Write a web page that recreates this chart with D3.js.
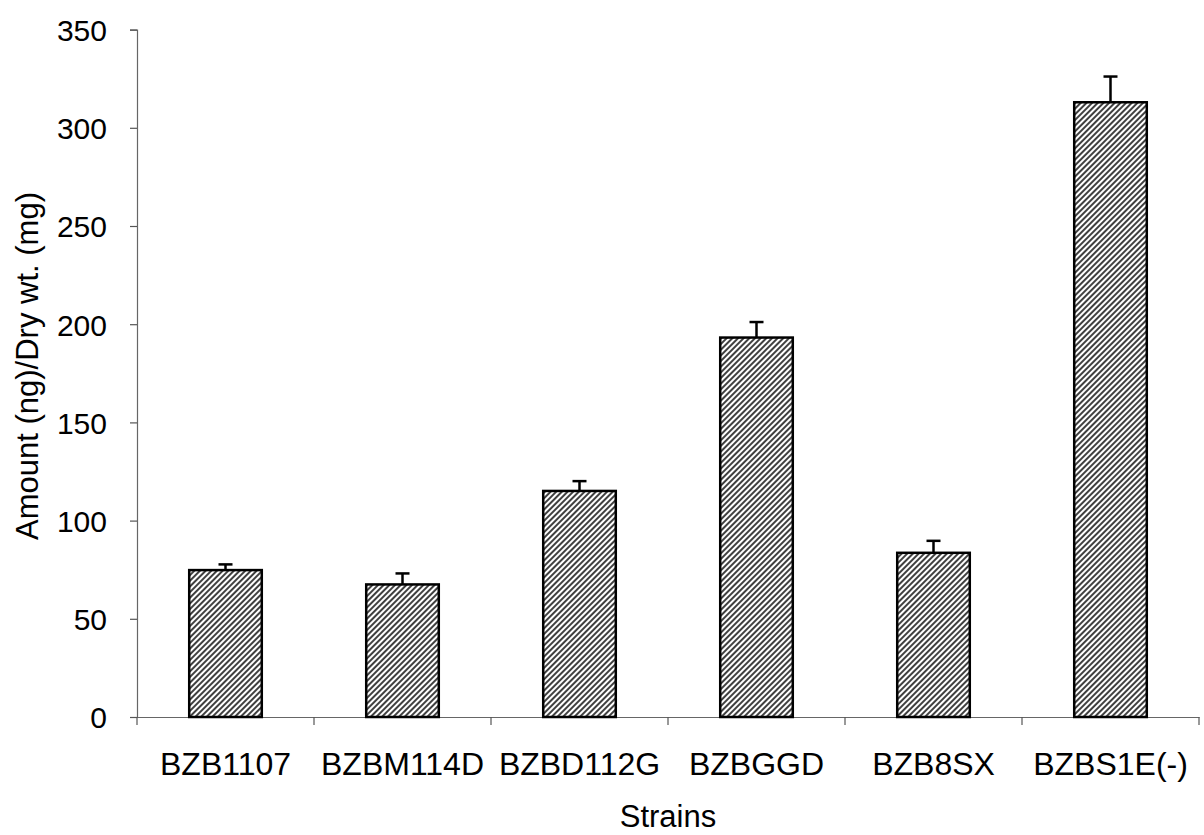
<!DOCTYPE html>
<html><head><meta charset="utf-8">
<script src="https://cdn.jsdelivr.net/npm/d3@7"></script>
<style>body{margin:0;background:#fff}svg{display:block}text{font-family:"Liberation Sans",Arial,sans-serif;fill:#000}</style>
</head><body>
<script>
const categories = ["BZB1107","BZBM114D","BZBD112G","BZBGGD","BZB8SX","BZBS1E(-)"];
const values = [74.8, 67.5, 115.1, 193.2, 83.6, 313.0];
const errors = [2.9, 5.6, 5.0, 7.9, 6.1, 13.1];
const yTicks = [0,50,100,150,200,250,300,350];
const yTitle = "Amount (ng)/Dry wt. (mg)";
const xTitle = "Strains";

const W=1204,H=835;
const svg=d3.select("body").append("svg").attr("width",W).attr("height",H);
const defs=svg.append("defs");
const pat=defs.append("pattern").attr("id","hatch").attr("patternUnits","userSpaceOnUse")
  .attr("width",4).attr("height",4).attr("patternTransform","rotate(45)");
pat.append("rect").attr("width",4).attr("height",4).attr("fill","#fff");
pat.append("line").attr("x1",1).attr("y1",0).attr("x2",1).attr("y2",4).attr("stroke","#000").attr("stroke-width",1.5);

const x=d3.scaleBand().domain(categories).range([137,1199]).padding(0);
const y=d3.scaleLinear().domain([0,350]).range([717,29.6]);
const bw=x.bandwidth()*0.41;

// axes
const ya=svg.append("g").attr("transform","translate(137,0)")
  .call(d3.axisLeft(y).tickValues(yTicks).tickSize(7).tickPadding(23));
ya.selectAll("text").style("font-size","30px").attr("dy","0.36em");
ya.select(".domain").attr("stroke","#666").attr("stroke-width",1.2);
ya.selectAll(".tick line").attr("stroke","#555").attr("stroke-width",1.2);

const xa=svg.append("g").attr("transform","translate(0,717)")
  .call(d3.axisBottom(x).tickSize(0).tickPadding(35));
xa.selectAll("text").style("font-size","32px").attr("dy","0.71em");
xa.select(".domain").attr("stroke","#666").attr("stroke-width",1.2);
// tick marks at band boundaries
const bounds=categories.map(c=>x(c)).concat([x(categories[categories.length-1])+x.bandwidth()]);
svg.append("g").selectAll("line").data(bounds).join("line")
  .attr("x1",d=>d).attr("x2",d=>d).attr("y1",717).attr("y2",725)
  .attr("stroke","#555").attr("stroke-width",1.2);

// bars
const data=categories.map((c,i)=>({c,v:values[i],e:errors[i]}));
svg.append("g").selectAll("rect").data(data).join("rect")
  .attr("x",d=>x(d.c)+x.bandwidth()/2-bw/2).attr("width",bw)
  .attr("y",d=>y(d.v)).attr("height",d=>y(0)-y(d.v))
  .attr("fill","url(#hatch)").attr("stroke","#000").attr("stroke-width",2.5);

// error bars
const eg=svg.append("g").attr("stroke","#000").attr("stroke-width",2.5);
eg.selectAll("line.v").data(data).join("line").attr("class","v")
  .attr("x1",d=>x(d.c)+x.bandwidth()/2).attr("x2",d=>x(d.c)+x.bandwidth()/2)
  .attr("y1",d=>y(d.v)).attr("y2",d=>y(d.v+d.e));
eg.selectAll("line.c").data(data).join("line").attr("class","c")
  .attr("x1",d=>x(d.c)+x.bandwidth()/2-7).attr("x2",d=>x(d.c)+x.bandwidth()/2+7)
  .attr("y1",d=>y(d.v+d.e)).attr("y2",d=>y(d.v+d.e));

// titles
svg.append("text").attr("x",668).attr("y",827).attr("text-anchor","middle").style("font-size","31px").text(xTitle);
svg.append("text").attr("transform","translate(38,366) rotate(-90)").attr("text-anchor","middle").style("font-size","31px").text(yTitle);
</script>
</body></html>
